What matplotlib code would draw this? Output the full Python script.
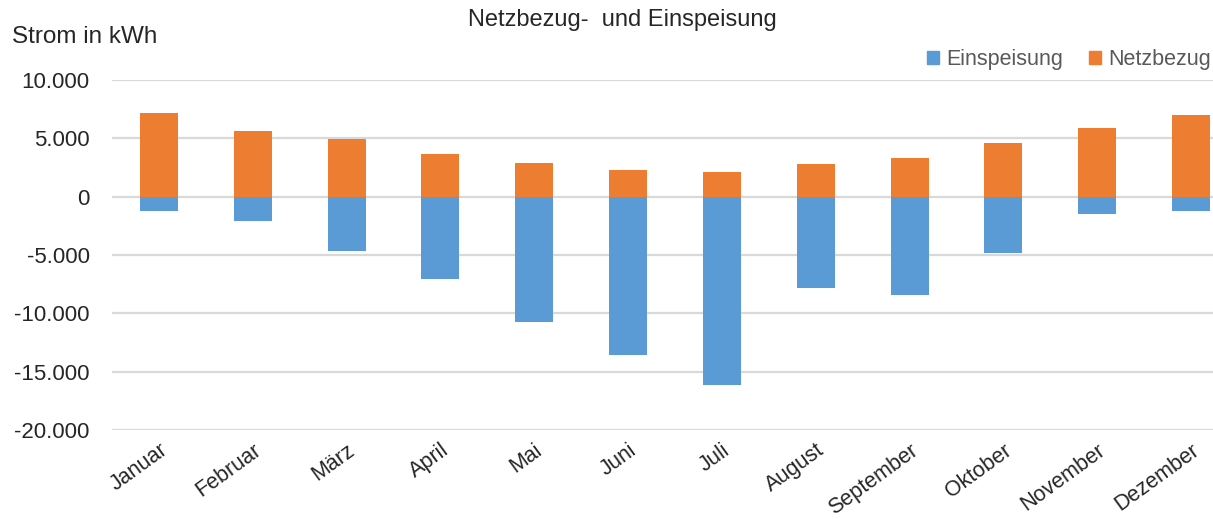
import matplotlib
matplotlib.use("Agg")
import matplotlib.pyplot as plt
from matplotlib.patches import Patch
from matplotlib.ticker import FuncFormatter

months = ["Januar", "Februar", "März", "April", "Mai", "Juni", "Juli",
          "August", "September", "Oktober", "November", "Dezember"]
netzbezug = [7150, 5600, 4970, 3630, 2900, 2300, 2100, 2830, 3310, 4570, 5910, 7030]
einspeisung = [-1250, -2100, -4650, -7030, -10700, -13570, -16100, -7830, -8430, -4860, -1460, -1260]
yticks = [-20000, -15000, -10000, -5000, 0, 5000, 10000]

BLUE = "#5B9BD5"
ORANGE = "#ED7D31"
FONT = "Liberation Sans"
plt.rcParams["font.family"] = [FONT, "DejaVu Sans"]

fig = plt.figure(figsize=(12.13, 5.19), dpi=100)
# plot area extends slightly past the right edge, as in the (cropped) reference
ax = fig.add_axes([112/1213, 89/519, 1126/1213, 350/519])

x = range(len(months))
ax.bar(x, einspeisung, width=0.405, color=BLUE, zorder=3)
ax.bar(x, netzbezug, width=0.405, color=ORANGE, zorder=3)

ax.set_xlim(-0.5, len(months) - 0.5)
ax.set_ylim(-20000, 10000)
ax.set_yticks(yticks)
ax.yaxis.set_major_formatter(FuncFormatter(lambda v, p: f"{int(v):,}".replace(",", ".")))
ax.grid(axis="y", color="#D9D9D9", linewidth=1.6, zorder=0)
for s in ax.spines.values():
    s.set_visible(False)
ax.tick_params(axis="y", length=0, pad=16, labelsize=16, labelcolor="#262626")
ax.tick_params(axis="x", length=0, pad=7, labelsize=15.5, labelcolor="#262626")
ax.set_xticks(list(x))
ax.set_xticklabels(months, rotation=36, ha="right", rotation_mode="anchor", va="top")

fig.text(622/1213, 1 - 20/519, "Netzbezug-  und Einspeisung", ha="center", va="center",
         fontsize=17, color="#262626")
fig.text(12/1213, 1 - 37/519, "Strom in kWh", ha="left", va="center",
         fontsize=17.5, color="#262626")

handles = [Patch(color=BLUE, label="Einspeisung"), Patch(color=ORANGE, label="Netzbezug")]
fig.legend(handles=handles, loc="center right", bbox_to_anchor=(1211/1213, 1 - 60/519),
           ncol=2, frameon=False, fontsize=15.5, labelcolor="#595959",
           handlelength=0.55, handleheight=0.55, handletextpad=0.35, columnspacing=1.2,
           borderpad=0, borderaxespad=0)

fig.savefig("out.png", dpi=100)
